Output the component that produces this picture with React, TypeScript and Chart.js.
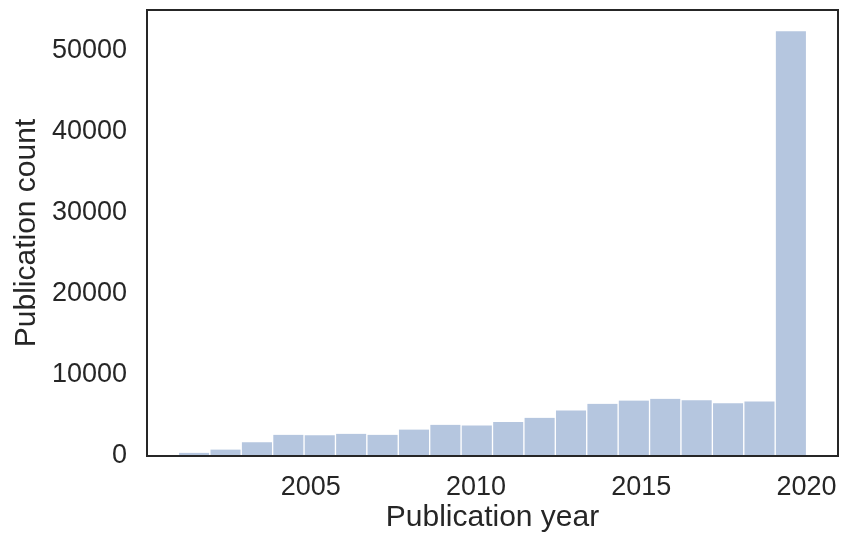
import React, { useEffect, useRef } from "react";
import { Chart, registerables } from "chart.js";

Chart.register(...registerables);

// Histogram bins: 20 equal-width bins spanning the publication years
const binStart = 2001;
const binEnd = 2020;
const counts = [
  400, 800, 1700, 2620, 2570, 2740, 2620, 3270, 3850, 3770,
  4200, 4720, 5620, 6440, 6850, 7060, 6890, 6520, 6730, 52400,
];
const xTickValues = [2005, 2010, 2015, 2020];
const yTickValues = [0, 10000, 20000, 30000, 40000, 50000];
const xTitle = "Publication year";
const yTitle = "Publication count";

const FONT = "'Liberation Sans', Arial, Helvetica, sans-serif";
const TEXT = "#262626";

const framePlugin = {
  id: "frame",
  afterDatasetsDraw(chart: any) {
    const { ctx, chartArea } = chart;
    const { left, top, right, bottom } = chartArea;
    ctx.save();
    ctx.strokeStyle = "#262626";
    ctx.lineWidth = 2;
    ctx.strokeRect(left, top, right - left, bottom - top);
    ctx.restore();
  },
};

export default function App() {
  const canvasRef = useRef<HTMLCanvasElement | null>(null);

  useEffect(() => {
    if (!canvasRef.current) return;
    const binWidth = (binEnd - binStart) / counts.length;
    const span = binEnd - binStart;
    const points = counts.map((c, i) => ({ x: binStart + binWidth * (i + 0.5), y: c }));
    const yMax = Math.max(...counts) * 1.05;

    const chart = new Chart(canvasRef.current, {
      type: "bar",
      data: {
        datasets: [
          {
            data: points as any,
            backgroundColor: "rgb(181,198,223)",
            borderColor: "#ffffff",
            borderWidth: { left: 1, right: 1, top: 0, bottom: 0 } as any,
            borderSkipped: "start",
            barPercentage: 1,
            categoryPercentage: 1,
          },
        ],
      },
      options: {
        animation: false,
        responsive: false,
        devicePixelRatio: 1,
        layout: { padding: { top: 10, right: 4, left: 0, bottom: 0 } },
        plugins: {
          legend: { display: false },
          tooltip: { enabled: false },
        },
        scales: {
          x: {
            type: "linear",
            offset: false,
            min: binStart - 0.05 * span,
            max: binEnd + 0.05 * span,
            grid: { display: false, drawTicks: false },
            border: { display: false },
            afterBuildTicks: (scale: any) => {
              scale.ticks = xTickValues.map((v) => ({ value: v }));
            },
            afterFit: (scale: any) => {
              scale.height = 80;
              scale.paddingLeft = 0;
              scale.paddingRight = 0;
              scale.paddingTop = 0;
              scale.paddingBottom = 0;
            },
            ticks: {
              padding: 15,
              autoSkip: false,
              maxRotation: 0,
              color: TEXT,
              font: { family: FONT, size: 27 },
              callback: (v: any) => String(v),
            },
            title: {
              display: true,
              text: xTitle,
              color: TEXT,
              font: { family: FONT, size: 30 },
              padding: { top: 0, bottom: 0 },
            },
          },
          y: {
            type: "linear",
            min: 0,
            max: yMax,
            grid: { display: false, drawTicks: false },
            border: { display: false },
            afterBuildTicks: (scale: any) => {
              scale.ticks = yTickValues.map((v) => ({ value: v }));
            },
            afterFit: (scale: any) => {
              scale.width = 147;
              scale.paddingLeft = 0;
              scale.paddingRight = 0;
              scale.paddingTop = 0;
              scale.paddingBottom = 0;
            },
            ticks: {
              padding: 20,
              color: TEXT,
              font: { family: FONT, size: 27 },
              callback: (v: any) => String(v),
            },
            title: {
              display: true,
              text: yTitle,
              color: TEXT,
              font: { family: FONT, size: 30 },
              padding: { top: 9, bottom: 0 },
            },
          },
        },
      },
      plugins: [framePlugin],
    });
    return () => chart.destroy();
  }, []);

  return (
    <div style={{ position: "absolute", left: 0, top: 0, width: 842, height: 536, background: "#fff" }}>
      <canvas ref={canvasRef} width={842} height={536} style={{ display: "block" }} />
    </div>
  );
}
